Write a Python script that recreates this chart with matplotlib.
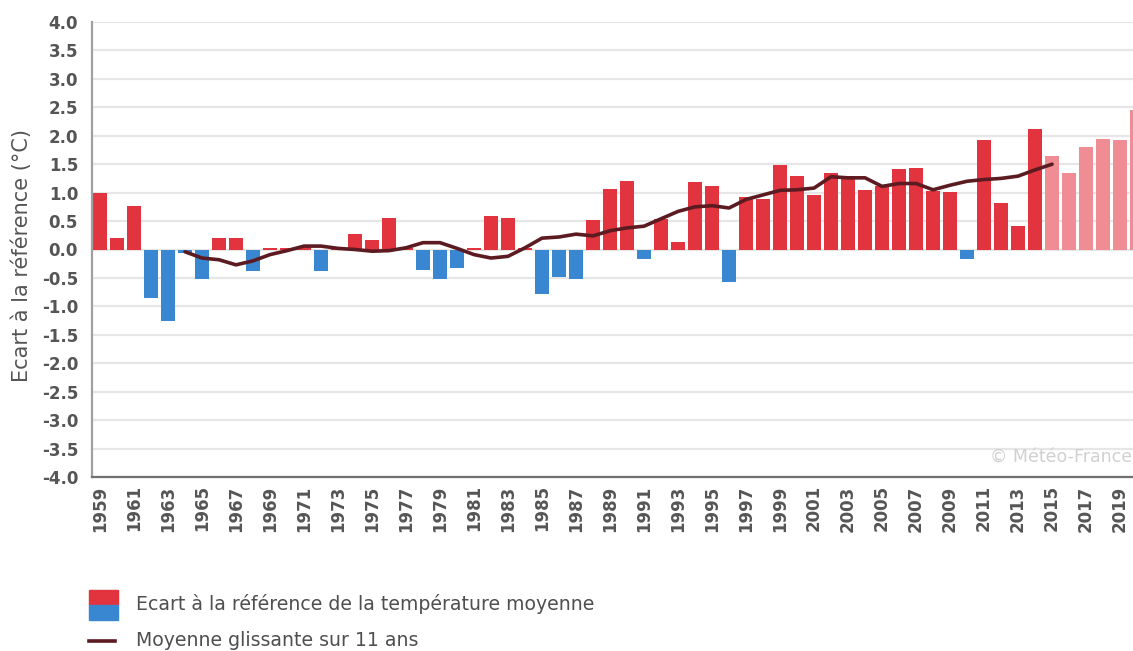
import matplotlib
matplotlib.use("Agg")
import matplotlib.pyplot as plt
from matplotlib.patches import Rectangle
from matplotlib.lines import Line2D

# Annual mean temperature anomaly (°C) relative to the reference period
years = list(range(1959, 2021))
anomaly = [
    1.00, 0.20, 0.77, -0.86, -1.26, -0.06, -0.52, 0.20, 0.20, -0.38,
    0.02, 0.02, 0.05, -0.38, 0.03, 0.27, 0.16, 0.56, 0.02, -0.36,
    -0.51, -0.33, 0.03, 0.59, 0.55, 0.02, -0.79, -0.49, -0.52, 0.52,
    1.07, 1.20, -0.16, 0.53, 0.14, 1.18, 1.12, -0.57, 0.92, 0.88,
    1.48, 1.29, 0.96, 1.35, 1.29, 1.04, 1.12, 1.41, 1.44, 1.02,
    1.01, -0.16, 1.92, 0.82, 0.42, 2.12, 1.65, 1.35, 1.81, 1.95,
    1.92, 2.46,
]
# first year drawn with the lighter shade
light_from = 2015

# 11-year running mean
ma_years = list(range(1964, 2016))
ma_values = [
    -0.04, -0.15, -0.18, -0.27, -0.20, -0.09, -0.02, 0.06, 0.06, 0.02,
    0.00, -0.03, -0.02, 0.03, 0.12, 0.12, 0.02, -0.09, -0.15, -0.12,
    0.03, 0.20, 0.22, 0.27, 0.24, 0.33, 0.38, 0.41, 0.54, 0.67,
    0.75, 0.77, 0.73, 0.88, 0.96, 1.04, 1.05, 1.08, 1.28, 1.26,
    1.26, 1.11, 1.16, 1.16, 1.05, 1.13, 1.20, 1.23, 1.25, 1.29,
    1.40, 1.50,
]

yticks = [-4.0, -3.5, -3.0, -2.5, -2.0, -1.5, -1.0, -0.5, 0.0,
          0.5, 1.0, 1.5, 2.0, 2.5, 3.0, 3.5, 4.0]
xtick_years = list(range(1959, 2021, 2))

RED = "#e2343e"
BLUE = "#3a87d1"
LIGHT = "#f08c94"
LINE = "#5c1b21"
TXT = "#555555"

colors = []
for y, v in zip(years, anomaly):
    if y >= light_from:
        colors.append(LIGHT)
    elif v >= 0:
        colors.append(RED)
    else:
        colors.append(BLUE)

fig = plt.figure(figsize=(11.33, 6.51), dpi=100)
ax = fig.add_axes([92 / 1133, 1 - 477 / 651, 1 - 92 / 1133, (477 - 22) / 651])

ax.bar(years, anomaly, width=0.84, color=colors, zorder=2)
ax.plot(ma_years, ma_values, color=LINE, lw=2.6, zorder=3,
        solid_capstyle="round")

ax.set_xlim(1958.53, 2019.76)
ax.set_ylim(-4.0, 4.0)
ax.set_yticks(yticks)
ax.set_yticklabels([f"{t:.1f}" for t in yticks])
ax.set_xticks(xtick_years)
ax.set_xticklabels([str(y) for y in xtick_years], rotation=90)

ax.grid(axis="y", color="#e6e6e6", lw=1.6, zorder=0)
ax.set_axisbelow(True)
ax.tick_params(axis="both", length=0, labelsize=12, labelcolor=TXT)
ax.tick_params(axis="y", pad=10)
ax.tick_params(axis="x", pad=6)
for lab in ax.get_xticklabels() + ax.get_yticklabels():
    lab.set_fontweight("bold")
    lab.set_family("DejaVu Sans")

for side in ("top", "right"):
    ax.spines[side].set_visible(False)
ax.spines["left"].set_color("#a0a0a0")
ax.spines["left"].set_linewidth(1.6)
ax.spines["bottom"].set_color("#707070")
ax.spines["bottom"].set_linewidth(1.6)

fig.text(22 / 1133, 1 - 256 / 651, "Ecart à la référence (°C)", rotation=90,
         ha="center", va="center", fontsize=15, color=TXT,
         family="DejaVu Sans")

# watermark
ax.text(0.999, 0.045, "© Météo-France", transform=ax.transAxes,
        ha="right", va="center", fontsize=12.5, color="#d0d0d0",
        family="DejaVu Sans")

# legend drawn in figure coordinates
W, H = 1133, 651
fig.patches.append(Rectangle((89 / W, 1 - 605 / H), 29 / W, 15 / H,
                             transform=fig.transFigure, color=RED))
fig.patches.append(Rectangle((89 / W, 1 - 620 / H), 29 / W, 15 / H,
                             transform=fig.transFigure, color=BLUE))
fig.text(136 / W, 1 - 604 / H, "Ecart à la référence de la température moyenne",
         ha="left", va="center", fontsize=13.6, color="#4f4f4f",
         family="DejaVu Sans")
fig.lines.append(Line2D([89 / W, 115 / W], [1 - 641 / H, 1 - 641 / H],
                        transform=fig.transFigure, color=LINE, lw=2.6))
fig.text(136 / W, 1 - 640 / H, "Moyenne glissante sur 11 ans",
         ha="left", va="center", fontsize=13.6, color="#4f4f4f",
         family="DejaVu Sans")

fig.savefig("out.png", dpi=100)
